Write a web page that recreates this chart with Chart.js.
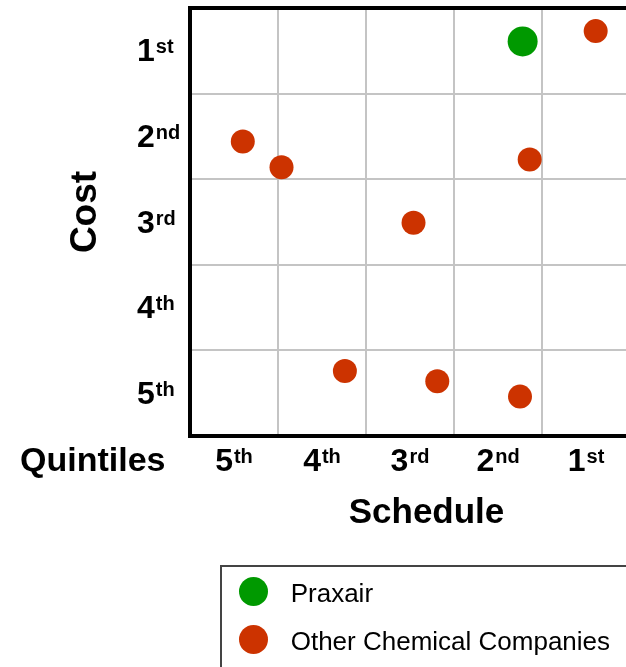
<!DOCTYPE html>
<html>
<head>
<meta charset="utf-8">
<script src="https://cdn.jsdelivr.net/npm/chart.js@4.4.0/dist/chart.umd.min.js"></script>
<style>
  html, body { margin: 0; padding: 0; background: #fff; overflow: hidden; }
  #wrap { position: relative; width: 626px; height: 667px; overflow: hidden; }
  #quintChart { position: absolute; left: 0; top: 0; }
  #legend {
    position: absolute; left: 220px; top: 565px; width: 440px; height: 140px;
    border: 2px solid #444; box-sizing: border-box;
    font-family: "Liberation Sans", Arial, sans-serif; font-size: 26px; color: #000;
  }
  #legend .dot { position: absolute; width: 29px; height: 29px; border-radius: 50%; }
  #legend .txt { position: absolute; line-height: 29px; white-space: nowrap; }
</style>
</head>
<body>
<div id="wrap">
  <canvas id="quintChart" width="640" height="667"></canvas>
  <div id="legend"></div>
</div>
<script>
// quintile positions (1 = best quintile)
const seriesNames = ['Praxair', 'Other Chemical Companies'];
const seriesColors = ['#009900', '#cc3300'];
const praxairSchedule = [1.72];
const praxairCost = [0.89];
const otherSchedule = [0.89, 4.90, 4.46, 1.64, 2.96, 3.74, 2.69, 1.75];
const otherCost = [0.77, 2.06, 2.36, 2.27, 3.01, 4.74, 4.86, 5.04];
const quintileNums = ['1', '2', '3', '4', '5'];
const quintileSuffix = ['st', 'nd', 'rd', 'th', 'th'];

const FONT = '"Liberation Sans", Arial, sans-serif';

const toPoints = (xs, ys) => xs.map((x, i) => ({ x: x, y: ys[i] }));

const isHalf = v => Math.abs(v * 2 - Math.round(v * 2)) < 1e-6 && Math.round(v * 2) % 2 === 1;

const gridColor = ctx => {
  const v = ctx.tick ? ctx.tick.value : 0;
  return (isHalf(v) && v > 0.6 && v < 5.4) ? '#c4c4c4' : 'rgba(0,0,0,0)';
};

function drawQuintile(ctx, num, suffix, x, baseline) {
  ctx.font = 'bold 32px ' + FONT;
  ctx.fillText(num, x, baseline);
  const w1 = ctx.measureText(num).width;
  ctx.font = 'bold 20px ' + FONT;
  ctx.fillText(suffix, x + w1 + 1, baseline - 8);
}

const labelPlugin = {
  id: 'quintileLabels',
  afterDraw(chart) {
    const ctx = chart.ctx;
    const xs = chart.scales.x;
    const ys = chart.scales.y;
    ctx.save();
    ctx.fillStyle = '#000';
    ctx.textAlign = 'left';
    ctx.textBaseline = 'alphabetic';
    quintileNums.forEach((n, i) => {
      const value = i + 1;
      ctx.font = 'bold 32px ' + FONT;
      const w1 = ctx.measureText(n).width;
      ctx.font = 'bold 20px ' + FONT;
      const w2 = ctx.measureText(quintileSuffix[i]).width;
      const cx = xs.getPixelForValue(value);
      drawQuintile(ctx, n, quintileSuffix[i], cx - (w1 + w2 + 1) / 2, 471);
      const cy = ys.getPixelForValue(value);
      drawQuintile(ctx, n, quintileSuffix[i], 137, cy + 10.5);
    });

    ctx.font = 'bold 34px ' + FONT;
    ctx.fillText('Quintiles', 20, 471);

    ctx.font = 'bold 35px ' + FONT;
    ctx.textAlign = 'center';
    ctx.fillText('Schedule', 426.5, 523);

    ctx.translate(96, 212);
    ctx.rotate(-Math.PI / 2);
    ctx.font = 'bold 37px ' + FONT;
    ctx.fillText('Cost', 0, 0);
    ctx.restore();
  }
};

const chart = new Chart(document.getElementById('quintChart'), {
  type: 'scatter',
  data: {
    datasets: [
      {
        label: seriesNames[0],
        data: toPoints(praxairSchedule, praxairCost),
        backgroundColor: seriesColors[0],
        borderWidth: 0,
        pointRadius: 15,
        pointHoverRadius: 15
      },
      {
        label: seriesNames[1],
        data: toPoints(otherSchedule, otherCost),
        backgroundColor: seriesColors[1],
        borderWidth: 0,
        pointRadius: 12,
        pointHoverRadius: 12
      }
    ]
  },
  options: {
    responsive: false,
    animation: false,
    layout: { autoPadding: false, padding: { left: 0, top: 0, right: 10, bottom: 0 } },
    plugins: {
      legend: { display: false },
      tooltip: { enabled: false }
    },
    scales: {
      x: {
        type: 'linear',
        position: 'bottom',
        reverse: true,
        min: 0.5,
        max: 5.5,
        ticks: { stepSize: 0.5, display: false },
        grid: { color: gridColor, lineWidth: 2, drawTicks: false },
        border: { color: '#000', width: 4 },
        afterFit: s => { s.height = 231; }
      },
      x2: {
        type: 'linear',
        position: 'top',
        min: 0,
        max: 1,
        ticks: { display: false },
        grid: { display: false, drawTicks: false },
        border: { color: '#000', width: 4 },
        afterFit: s => { s.height = 8; }
      },
      y: {
        type: 'linear',
        position: 'left',
        reverse: true,
        min: 0.5,
        max: 5.5,
        ticks: { stepSize: 0.5, display: false },
        grid: { color: gridColor, lineWidth: 2, drawTicks: false },
        border: { color: '#000', width: 4 },
        afterFit: s => { s.width = 190; }
      }
    }
  },
  plugins: [labelPlugin]
});

// legend built from the chart's datasets
const legend = document.getElementById('legend');
chart.data.datasets.forEach((ds, i) => {
  const dot = document.createElement('div');
  dot.className = 'dot';
  dot.style.left = '16.5px';
  dot.style.top = (10 + i * 47.6) + 'px';
  dot.style.background = ds.backgroundColor;
  const txt = document.createElement('div');
  txt.className = 'txt';
  txt.style.left = '68.7px';
  txt.style.top = (12 + i * 47.6) + 'px';
  txt.textContent = ds.label;
  legend.appendChild(dot);
  legend.appendChild(txt);
});
</script>
</body>
</html>
